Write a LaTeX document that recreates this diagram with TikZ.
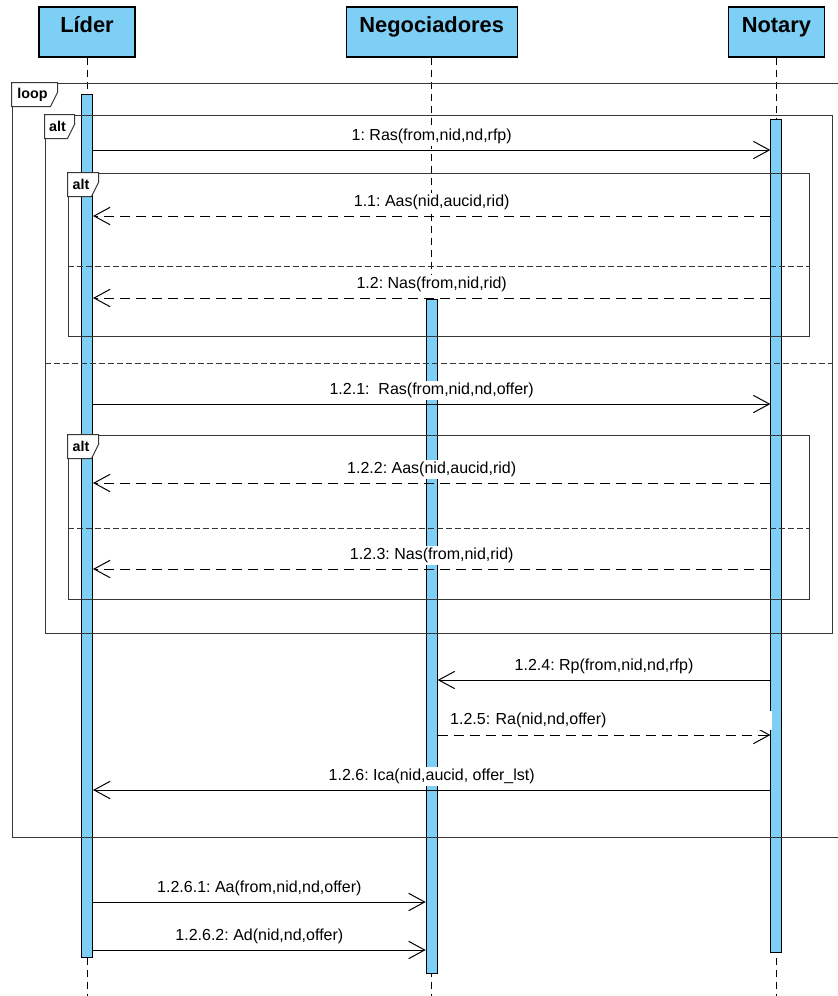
\documentclass[tikz,border=0pt]{standalone}
\usepackage{fontspec}
\setmainfont{Liberation Sans}
\usepackage{xcolor}
\usepackage{tikz}
\usetikzlibrary{arrows.meta, positioning, fit, calc}
\frenchspacing

\definecolor{lifeblue}{RGB}{126,207,245}
\definecolor{frameline}{RGB}{55,55,55}

\begin{document}
\begin{tikzpicture}[
    x=0.75pt, y=-0.75pt,
    node distance=157.5pt,
    head/.style={rectangle, draw, fill=lifeblue, line width=0.9pt, minimum width=72pt, inner ysep=0pt, text height=19.2pt, text depth=18.3pt, font=\fontsize{16.4}{19}\selectfont\bfseries},
    lifeline/.style={line width=0.75pt, dash pattern=on 5.25pt off 3.75pt},
    actbar/.style={rectangle, draw, fill=lifeblue, line width=0.75pt, minimum width=8.25pt, inner sep=0pt, anchor=north},
    frag/.style={rectangle, draw=frameline, line width=0.75pt, inner sep=0pt},
    tabshape/.style={draw=frameline, fill=white, line width=0.75pt},
    tablbl/.style={inner sep=0pt, font=\fontsize{10.7}{12}\selectfont\bfseries},
    altsep/.style={draw=frameline, line width=0.75pt, dash pattern=on 4.5pt off 2.25pt},
    msg/.style={-{Straight Barb[length=12pt, width=13pt]}, line width=0.75pt},
    reply/.style={msg, dash pattern=on 7.5pt off 4.5pt},
    lbl/.style={fill=white, inner sep=1.5pt, font=\fontsize{12}{14}\selectfont},
]
    \useasboundingbox (0,0) rectangle (838,996);

    % Lifeline heads
    \node[head] (lider) at (87,32) {Líder};
    \node[head, right=of lider, minimum width=128.25pt] (negoc) {Negociadores};
    \node[head, right=of negoc] (notary) {Notary};

    % Lifelines
    \foreach \who in {lider, negoc, notary}
        \draw[lifeline] (\who.south) -- (\who.south |- 0,996);

    % Activation bars
    \node[actbar, minimum height=647.25pt] (liderbar) at (lider.south |- 0,94) {};
    \node[actbar, minimum height=505.5pt] (negocbar) at (negoc.south |- 0,299) {};
    \node[actbar, minimum height=624.75pt] (notarybar) at (notary.south |- 0,119) {};

    % Combined fragments
    \node[frag, fit={(12,83) (842,837)}] (loopfr) {};
    \node[frag, fit={(45,115) (832,633)}] (altA) {};
    \node[frag, fit={(68,173) (809,336)}] (altB) {};
    \node[frag, fit={(68,435) (809,599)}] (altC) {};

    % Operand separators
    \draw[altsep] (altA.west |- 0,363) -- (altA.east |- 0,363);
    \draw[altsep] (altB.west |- 0,266) -- (altB.east |- 0,266);
    \draw[altsep] (altC.west |- 0,528) -- (altC.east |- 0,528);

    % Fragment tabs
    \foreach \fr/\w/\txt in {loopfr/46/loop, altA/30/alt, altB/31/alt, altC/31/alt} {
        \draw[tabshape] (\fr.north west) -- ++(\w,0) -- ++(0,10) -- ++(-7,14) -- ($(\fr.north west)+(0,24)$) -- cycle;
        \node[tablbl] (\fr-tab) at ($(\fr.north west)+(\w/2-2,12)$) {\txt};
    }

    % Messages
    \draw[msg] (liderbar.east |- 0,150) -- node[lbl, above=3pt] (m1) {1: Ras(from,nid,nd,rfp)} (notarybar.west |- 0,150);
    \draw[reply] (notarybar.west |- 0,216) -- node[lbl, above=3pt] (m11) {1.1: Aas(nid,aucid,rid)} (liderbar.east |- 0,216);
    \draw[reply] (notarybar.west |- 0,298) -- node[lbl, above=3pt] (m12) {1.2: Nas(from,nid,rid)} (liderbar.east |- 0,298);
    \draw[msg] (liderbar.east |- 0,404) -- node[lbl, above=3pt] (m121) {1.2.1:\ \ Ras(from,nid,nd,offer)} (notarybar.west |- 0,404);
    \draw[reply] (notarybar.west |- 0,483) -- node[lbl, above=3pt] (m122) {1.2.2: Aas(nid,aucid,rid)} (liderbar.east |- 0,483);
    \draw[reply] (notarybar.west |- 0,569) -- node[lbl, above=3pt] (m123) {1.2.3: Nas(from,nid,rid)} (liderbar.east |- 0,569);
    \draw[msg] (notarybar.west |- 0,680) -- node[lbl, above=3pt] (m124) {1.2.4: Rp(from,nid,nd,rfp)} (negocbar.east |- 0,680);
    \draw[reply] (negocbar.east |- 0,735) -- node[lbl, pos=0, anchor=south west, yshift=3.75pt, text width=232pt, inner xsep=9pt, align=left] (m125) {1.2.5: Ra(nid,nd,offer)} (notarybar.west |- 0,735);
    \draw[msg] (notarybar.west |- 0,790) -- node[lbl, above=3pt] (m126) {1.2.6: Ica(nid,aucid, offer\_lst)} (liderbar.east |- 0,790);
    \draw[msg] (liderbar.east |- 0,902) -- node[lbl, above=3pt] (m1261) {1.2.6.1: Aa(from,nid,nd,offer)} (negocbar.west |- 0,902);
    \draw[msg] (liderbar.east |- 0,950) -- node[lbl, above=3pt] (m1262) {1.2.6.2: Ad(nid,nd,offer)} (negocbar.west |- 0,950);
\end{tikzpicture}
\end{document}
